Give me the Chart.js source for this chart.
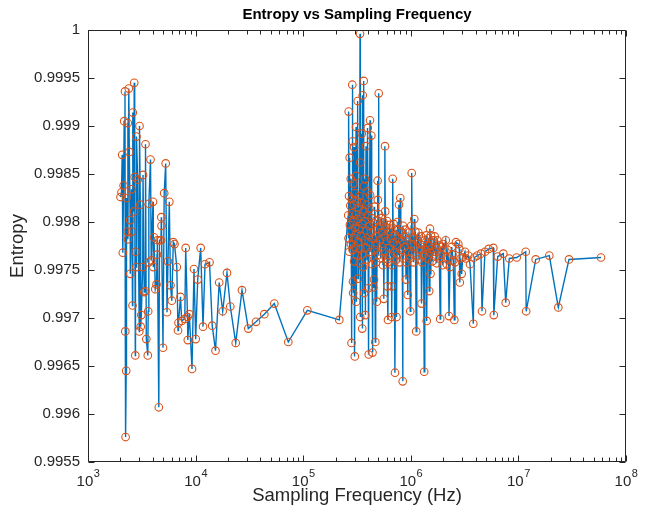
<!DOCTYPE html>
<html>
<head>
<meta charset="utf-8">
<script src="https://cdn.jsdelivr.net/npm/chart.js@4.4.1/dist/chart.umd.min.js"></script>
<style>
html,body{margin:0;padding:0;background:#ffffff;}
#wrap{width:646px;height:514px;}
</style>
</head>
<body>
<div id="wrap"><canvas id="c" width="646" height="514"></canvas></div>
<script>
// ---- Data ----
// Low-frequency sweep (Hz)
const lowFreqHz = [2004, 2048, 2078, 2106, 2142, 2169, 2207, 2221, 2235, 2265, 2279, 2328, 2343, 2353, 2394, 2420, 2467, 2472, 2537, 2564, 2592, 2608, 2676, 2688, 2716, 2752, 2763, 2811, 2823, 2896, 2997, 3010, 3062, 3089, 3129, 3225, 3246, 3330, 3409, 3423, 3482, 3595, 3626, 3665, 3689, 3810, 3868, 4019, 4045, 4107, 4222, 4332, 4378, 4407, 4550, 4619, 4769, 4800, 4821, 4977, 5107, 5274, 5424, 5540, 5696, 5844, 6009, 6205, 6367, 6688, 6862, 6936, 7240, 7428, 7935, 8091, 8409, 8463, 8738, 9259, 9663, 10020, 10460, 11150, 11720, 12230, 13470, 14270, 15310, 16570, 17860, 19580, 21020, 23590, 26990, 30890, 36420, 43500, 53870, 72700, 109200, 216500];
const lowEntropy = [0.99826, 0.99831, 0.99870, 0.99768, 0.99838, 0.99905, 0.99936, 0.99686, 0.99576, 0.99645, 0.99825, 0.99790, 0.99903, 0.99782, 0.99939, 0.99873, 0.99802, 0.99746, 0.99834, 0.99790, 0.99713, 0.99914, 0.99811, 0.99945, 0.99847, 0.99661, 0.99769, 0.99753, 0.99889, 0.99844, 0.99686, 0.99900, 0.99818, 0.99691, 0.99703, 0.99753, 0.99849, 0.99727, 0.99728, 0.99881, 0.99678, 0.99661, 0.99707, 0.99758, 0.99819, 0.99865, 0.99760, 0.99821, 0.99753, 0.99784, 0.99730, 0.99735, 0.99766, 0.99781, 0.99607, 0.99781, 0.99781, 0.99805, 0.99796, 0.99669, 0.99830, 0.99861, 0.99706, 0.99759, 0.99821, 0.99734, 0.99718, 0.99779, 0.99777, 0.99753, 0.99687, 0.99695, 0.99722, 0.99697, 0.99699, 0.99773, 0.99701, 0.99677, 0.99704, 0.99647, 0.99751, 0.99678, 0.99740, 0.99773, 0.99691, 0.99756, 0.99758, 0.99692, 0.99666, 0.99737, 0.99707, 0.99747, 0.99712, 0.99674, 0.99729, 0.99689, 0.99696, 0.99704, 0.99715, 0.99675, 0.99708, 0.99698];

// High-frequency sweep (kHz)
const highFreqKHz = [262.0, 263.7, 264.8, 266.5, 268.2, 270.5, 271.7, 274.1, 276.4, 277.6, 279.4, 281.2, 283.0, 284.2, 286.0, 287.9, 288.5, 290.4, 291.0, 292.3, 293.5, 295.4, 296.7, 297.3, 299.2, 301.2, 301.8, 304.4, 306.4, 309.0, 309.6, 310.3, 310.9, 312.9, 314.9, 317.7, 319.7, 321.1, 323.2, 325.3, 327.4, 330.2, 333.0, 335.2, 337.3, 338.0, 338.7, 340.2, 342.4, 345.3, 347.6, 349.8, 352.1, 353.6, 355.1, 357.4, 359.7, 362.8, 365.1, 366.7, 368.3, 370.7, 373.0, 375.4, 377.0, 380.3, 383.5, 386.0, 388.5, 391.8, 394.3, 397.7, 400.3, 402.9, 405.5, 406.3, 409.0, 413.4, 417.8, 418.7, 421.4, 425.0, 429.5, 433.1, 436.8, 440.6, 443.4, 448.2, 452.0, 455.0, 458.9, 462.9, 467.8, 471.8, 476.9, 480.0, 483.1, 487.2, 491.4, 493.5, 496.7, 499.9, 503.1, 506.3, 512.8, 519.5, 525.1, 531.9, 538.8, 544.5, 551.6, 556.3, 561.1, 567.1, 572.0, 575.7, 578.2, 581.9, 588.2, 595.8, 600.9, 604.8, 611.3, 613.9, 620.5, 627.2, 634.0, 643.4, 650.4, 657.4, 663.1, 665.9, 671.7, 678.9, 686.1, 693.5, 702.5, 710.1, 713.1, 720.8, 728.5, 736.3, 744.3, 752.3, 763.7, 770.2, 776.8, 786.8, 798.7, 807.3, 819.5, 831.9, 840.8, 846.2, 855.3, 868.2, 879.4, 892.7, 902.3, 912.0, 925.8, 937.7, 947.9, 962.1, 974.5, 989.2, 1000.0, 1008.5, 1019.4, 1032.5, 1048.1, 1061.7, 1077.7, 1089.3, 1103.3, 1122.4, 1136.9, 1154.1, 1174.0, 1191.7, 1212.3, 1230.6, 1243.8, 1257.2, 1276.2, 1298.2, 1315.0, 1332.0, 1349.2, 1369.6, 1390.2, 1405.2, 1423.3, 1444.8, 1463.5, 1482.4, 1501.6, 1508.0, 1524.2, 1537.3, 1557.2, 1580.7, 1618.4, 1642.8, 1667.6, 1696.4, 1722.0, 1740.5, 1763.0, 1816.6, 1840.1, 1875.8, 1896.0, 1937.0, 1978.9, 2000.2, 2034.8, 2110.2, 2155.9, 2193.0, 2230.9, 2264.6, 2313.6, 2399.2, 2440.8, 2482.9, 2536.6, 2574.9, 2630.6, 2763.4, 2823.1, 2853.6, 2896.5, 2971.7, 3036.3, 3189.3, 3258.4, 3422.8, 3549.7, 3809, 3892, 4151, 4491, 4588, 4893, 5296, 5845, 5908, 6422, 7239, 7620, 8230, 9642, 11690, 11810, 14480, 19370, 23490, 29530, 58560];
const highEntropy = [0.99807, 0.99783, 0.99915, 0.99827, 0.99769, 0.99867, 0.99797, 0.99817, 0.99845, 0.99777, 0.99791, 0.99674, 0.99824, 0.99809, 0.99943, 0.99771, 0.99884, 0.99738, 0.99726, 0.99840, 0.99800, 0.99818, 0.99878, 0.99759, 0.99783, 0.99830, 0.99660, 0.99794, 0.99774, 0.99808, 0.99899, 0.99848, 0.99717, 0.99788, 0.99822, 0.99765, 0.99803, 0.99926, 0.99741, 0.99779, 0.99815, 0.99793, 0.99827, 0.99757, 0.99996, 0.99862, 0.99701, 0.99772, 0.99806, 0.99785, 0.99820, 0.99892, 0.99766, 0.99689, 0.99798, 0.99932, 0.99753, 0.99811, 0.99947, 0.99837, 0.99726, 0.99781, 0.99801, 0.99845, 0.99703, 0.99773, 0.99879, 0.99818, 0.99791, 0.99761, 0.99832, 0.99898, 0.99807, 0.99731, 0.99779, 0.99662, 0.99796, 0.99814, 0.99906, 0.99828, 0.99769, 0.99789, 0.99890, 0.99804, 0.99756, 0.99664, 0.99783, 0.99732, 0.99799, 0.99740, 0.99771, 0.99816, 0.99675, 0.99785, 0.99758, 0.99802, 0.99717, 0.99776, 0.99843, 0.99823, 0.99793, 0.99766, 0.99934, 0.99808, 0.99781, 0.99796, 0.99762, 0.99804, 0.99774, 0.99790, 0.99755, 0.99800, 0.99720, 0.99770, 0.99785, 0.99879, 0.99811, 0.99795, 0.99762, 0.99780, 0.99801, 0.99733, 0.99758, 0.99698, 0.99790, 0.99773, 0.99797, 0.99765, 0.99783, 0.99793, 0.99733, 0.99701, 0.99755, 0.99845, 0.99778, 0.99798, 0.99769, 0.99786, 0.99643, 0.99760, 0.99792, 0.99701, 0.99775, 0.99800, 0.99766, 0.99783, 0.99818, 0.99758, 0.99825, 0.99790, 0.99771, 0.99780, 0.99634, 0.99796, 0.99762, 0.99785, 0.99774, 0.99792, 0.99740, 0.99758, 0.99781, 0.99724, 0.99769, 0.99789, 0.99762, 0.99707, 0.99777, 0.99796, 0.99851, 0.99767, 0.99784, 0.99758, 0.99803, 0.99775, 0.99790, 0.99686, 0.99765, 0.99781, 0.99789, 0.99761, 0.99777, 0.99771, 0.99785, 0.99715, 0.99758, 0.99776, 0.99766, 0.99644, 0.99781, 0.99771, 0.99786, 0.99697, 0.99762, 0.99775, 0.99783, 0.99728, 0.99768, 0.99793, 0.99746, 0.99786, 0.99772, 0.99759, 0.99781, 0.99769, 0.99785, 0.99764, 0.99773, 0.99757, 0.99781, 0.99776, 0.99762, 0.99699, 0.99766, 0.99774, 0.99755, 0.99777, 0.99771, 0.99781, 0.99756, 0.99771, 0.99762, 0.99702, 0.99753, 0.99774, 0.99766, 0.99760, 0.99698, 0.99758, 0.99779, 0.99777, 0.99772, 0.99737, 0.99762, 0.99746, 0.99763, 0.99769, 0.99762, 0.99765, 0.99756, 0.99694, 0.99763, 0.99765, 0.99767, 0.99707, 0.99769, 0.99772, 0.99773, 0.99703, 0.99764, 0.99767, 0.99716, 0.99762, 0.99763, 0.99769, 0.99707, 0.99761, 0.99765, 0.99711, 0.99761, 0.99763];

// Axis ticks
const xTickValues = [1e3, 1e4, 1e5, 1e6, 1e7, 1e8];
const xTickBase = '10';
const xTickExponents = ['3', '4', '5', '6', '7', '8'];
const yTickValues = [0.9955, 0.996, 0.9965, 0.997, 0.9975, 0.998, 0.9985, 0.999, 0.9995, 1];
const yTickLabels = ['0.9955', '0.996', '0.9965', '0.997', '0.9975', '0.998', '0.9985', '0.999', '0.9995', '1'];

// ---- Build chart ----
const FONT = "'Liberation Sans', Arial, Helvetica, sans-serif";
const AX = '#262626';

const points = lowFreqHz.map((f, i) => ({x: f, y: lowEntropy[i]}))
  .concat(highFreqKHz.map((f, i) => ({x: f * 1000, y: highEntropy[i]})));

const framePlugin = {
  id: 'frame',
  afterDatasetsDraw(chart) {
    const {ctx, chartArea: a, scales} = chart;
    const xs = scales.x, ys = scales.y;
    ctx.save();
    ctx.strokeStyle = AX;
    ctx.lineWidth = 1;
    const L = Math.round(a.left) + 0.5, R = Math.round(a.right) - 0.5;
    const T = Math.round(a.top) + 0.5, B = Math.round(a.bottom) - 0.5;
    ctx.beginPath();
    ctx.rect(L, T, R - L, B - T);
    ctx.stroke();
    ctx.beginPath();
    for (let d = 3; d <= 8; d++) {
      for (let k = 1; k <= 9; k++) {
        const v = k * Math.pow(10, d);
        if (v > 1e8) break;
        const px = Math.round(xs.getPixelForValue(v)) + 0.5;
        const len = (k === 1) ? 6 : 4;
        ctx.moveTo(px, B); ctx.lineTo(px, B - len);
        ctx.moveTo(px, T); ctx.lineTo(px, T + len);
      }
    }
    yTickValues.forEach(v => {
      const py = Math.round(ys.getPixelForValue(v)) + 0.5;
      ctx.moveTo(L, py); ctx.lineTo(L + 6, py);
      ctx.moveTo(R, py); ctx.lineTo(R - 6, py);
    });
    ctx.stroke();

    // x tick labels: base "10" with a raised exponent
    ctx.fillStyle = AX;
    ctx.textBaseline = 'alphabetic';
    ctx.textAlign = 'left';
    const baseFont = '15px ' + FONT, expFont = '11px ' + FONT;
    xTickValues.forEach((v, i) => {
      const px = xs.getPixelForValue(v);
      ctx.font = baseFont;
      const wb = ctx.measureText(xTickBase).width;
      ctx.font = expFont;
      const we = ctx.measureText(xTickExponents[i]).width;
      const x0 = px - (wb + we) / 2;
      ctx.font = baseFont;
      ctx.fillText(xTickBase, x0, a.bottom + 24);
      ctx.font = expFont;
      ctx.fillText(xTickExponents[i], x0 + wb + 0.5, a.bottom + 15);
    });
    ctx.restore();
  }
};

new Chart(document.getElementById('c'), {
  type: 'scatter',
  data: {
    datasets: [{
      data: points,
      showLine: true,
      borderColor: '#0072BD',
      borderWidth: 1.4,
      tension: 0,
      pointStyle: 'circle',
      pointRadius: 3.8,
      pointBorderColor: '#D95319',
      pointBackgroundColor: 'rgba(0,0,0,0)',
      pointBorderWidth: 1.1,
      pointHoverRadius: 3.8
    }]
  },
  options: {
    responsive: false,
    animation: false,
    devicePixelRatio: 1,
    layout: {padding: {left: 0, right: 20, top: 0, bottom: 0}},
    plugins: {
      legend: {display: false},
      tooltip: {enabled: false},
      title: {
        display: true,
        text: 'Entropy vs Sampling Frequency',
        fullSize: false,
        color: '#000000',
        font: {family: FONT, size: 15, weight: 'bold'},
        padding: {top: 6, bottom: 6}
      }
    },
    scales: {
      x: {
        type: 'logarithmic',
        position: 'bottom',
        min: 1e3,
        max: 1e8,
        afterBuildTicks: s => { s.ticks = xTickValues.map(v => ({value: v})); },
        afterFit: s => { s.height = 52; },
        ticks: {
          autoSkip: false,
          maxRotation: 0,
          padding: 6,
          color: 'rgba(0,0,0,0)',
          font: {family: FONT, size: 15},
          callback: (v, i) => xTickBase + xTickExponents[i]
        },
        grid: {display: false, drawTicks: false},
        border: {display: false},
        title: {
          display: true,
          text: 'Sampling Frequency (Hz)',
          color: AX,
          font: {family: FONT, size: 18.5},
          padding: {top: 0, bottom: 7}
        }
      },
      y: {
        type: 'linear',
        position: 'left',
        min: 0.9955,
        max: 1,
        afterBuildTicks: s => { s.ticks = yTickValues.map(v => ({value: v})); },
        afterFit: s => { s.width = 88; },
        ticks: {
          autoSkip: false,
          padding: 8,
          color: AX,
          font: {family: FONT, size: 15},
          callback: (v, i) => yTickLabels[i]
        },
        grid: {display: false, drawTicks: false},
        border: {display: false},
        title: {
          display: true,
          text: 'Entropy',
          color: AX,
          font: {family: FONT, size: 18.5},
          padding: {top: 7, bottom: 0}
        }
      }
    }
  },
  plugins: [framePlugin]
});
</script>
</body>
</html>
